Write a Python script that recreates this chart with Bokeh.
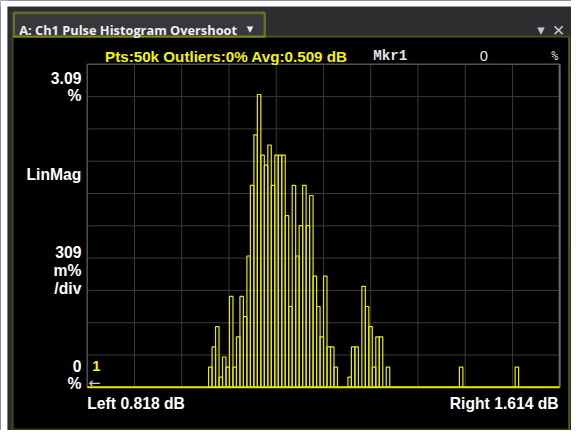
from bokeh.plotting import figure
from bokeh.models import Label, BoxAnnotation, Range1d
from bokeh.embed import file_html
from bokeh.resources import INLINE
import numpy as np

# ---------------- data ----------------
x_left_db = 0.818
x_right_db = 1.614
y_top_pct = 3.09
y_div_pct = 0.309
n_div = 10

bin_start_db = 1.0224
bin_width_db = 0.00587
heights_pct = [
    0.193, 0.386, 0.580, 0.097, 0.290, 0.193, 0.869, 0.193, 0.483, 0.869,
    0.676, 1.256, 1.932, 2.415, 2.801, 2.222, 2.125, 2.318, 1.932, 2.222,
    2.222, 2.222, 1.642, 0.773, 1.932, 1.256, 1.546, 1.932, 1.546, 1.835,
    1.063, 0.773, 0.483, 1.063, 0.386, 0.386, 0.193, 0.0, 0.0, 0.0,
    0.097, 0.386, 0.386, 0.0, 0.966, 0.773, 0.580, 0.193, 0.483, 0.483,
    0.0, 0.193, 0.0, 0.0, 0.0, 0.0, 0.0, 0.0, 0.0, 0.0,
    0.0, 0.0, 0.0, 0.0, 0.0, 0.0, 0.0, 0.0, 0.0, 0.0,
    0.0, 0.0, 0.193, 0.0, 0.0, 0.0, 0.0, 0.0, 0.0, 0.0,
    0.0, 0.0, 0.0, 0.0, 0.0, 0.0, 0.0, 0.0, 0.193,
]

title_text = "A: Ch1 Pulse Histogram Overshoot"
stats_text = "Pts:50k Outliers:0% Avg:0.509 dB"
marker_name = "Mkr1"
marker_value = "0"
marker_unit = "%"
scale_top_labels = ["3.09", "%"]
format_label = "LinMag"
scale_div_labels = ["309", "m%", "/div"]
scale_ref_labels = ["0", "%"]
left_label = "Left 0.818 dB"
right_label = "Right 1.614 dB"

# ---------------- layout ----------------
W, H = 571, 430
SX, SY = W / 579.0, H / 438.0   # reference pixels -> canvas pixels

def cx(px):
    return px * SX

def cy(py):
    return py * SY

# graticule position on the canvas
FL, FR, FT, FB = cx(88), cx(567), cy(65), cy(394)
kx = (x_right_db - x_left_db) / (FR - FL)
ky = y_top_pct / (FB - FT)
xr = Range1d(x_left_db - FL * kx, x_left_db + (W - FL) * kx)
yr = Range1d(-(H - FB) * ky, y_top_pct + FT * ky)

p = figure(width=W, height=H, output_backend="svg", toolbar_location=None,
           x_range=xr, y_range=yr, x_axis_location=None, y_axis_location=None,
           min_border=0, title=None)
p.xgrid.visible = False
p.ygrid.visible = False
p.outline_line_alpha = 0
p.background_fill_color = "black"
p.border_fill_color = "black"

# chrome (canvas pixel units)
def box(l, r, t, b, **kw):
    p.add_layout(BoxAnnotation(left=cx(l), right=cx(r), top=cy(t), bottom=cy(b),
                               left_units="canvas", right_units="canvas",
                               top_units="canvas", bottom_units="canvas",
                               level="underlay", **kw))

hdr = "#2d2d30"
box(0, 600, 0, 37, fill_color=hdr, fill_alpha=1, line_alpha=0)
box(0, 12, 37, 450, fill_color=hdr, fill_alpha=1, line_alpha=0)
box(576, 600, 37, 450, fill_color=hdr, fill_alpha=1, line_alpha=0)
box(0, 600, 0, 6, fill_color="white", fill_alpha=1, line_alpha=0)
box(0, 7, 0, 450, fill_color="white", fill_alpha=1, line_alpha=0)
box(13.5, 268, 12.5, 37, fill_color="#38383c", fill_alpha=1, line_color="#eeee00", line_width=2.5)
box(12.5, 576.5, 37, 437, fill_alpha=0, line_color="#c0c000", line_width=2)

# graticule
xt = np.linspace(x_left_db, x_right_db, n_div + 1)
yt = np.array([i * y_div_pct for i in range(n_div + 1)])
p.segment(x0=xt, y0=0, x1=xt, y1=y_top_pct, line_color="#3a3a3a", line_width=1)
p.segment(x0=x_left_db, y0=yt, x1=x_right_db, y1=yt, line_color="#3a3a3a", line_width=1)
p.segment(x0=[x_left_db, x_left_db], y0=[0, y_top_pct], x1=[x_left_db, x_right_db],
          y1=[y_top_pct, y_top_pct], line_color="#505050", line_width=1.5)
p.segment(x0=x_right_db, y0=0, x1=x_right_db, y1=y_top_pct, line_color="#6a6a6a", line_width=2)

# histogram
edges = bin_start_db + bin_width_db * np.arange(len(heights_pct) + 1)
p.quad(left=edges[:-1], right=edges[1:], bottom=0, top=heights_pct,
       fill_alpha=0, line_color="#eaea00", line_width=1.2)
p.segment(x0=x_left_db, y0=0, x1=x_right_db, y1=0, line_color="#e6e600", line_width=2)

def lab(text, px, py, align="left", color="white", size=14, font="Liberation Sans",
        style="bold", baseline="alphabetic"):
    p.add_layout(Label(x=cx(px), y=cy(py), x_units="canvas", y_units="canvas",
                       text=text, text_align=align,
                       text_baseline=baseline, text_color=color,
                       text_font_size="%.1fpx" % (size * SY),
                       text_font=font, text_font_style=style))

lab(title_text, 19, 30, size=13.0, font="Open Sans", color="#f0f0f0")
lab("\u25BE", 253, 29, align="center", size=13, color="#f0f0f0", style="normal", font="DejaVu Sans")
lab("\u25BE", 548, 30, align="center", size=15, color="#c8c8c8", style="normal", font="DejaVu Sans")
lab("\u2715", 566, 31, align="center", size=16, color="#c8c8c8", style="normal", font="DejaVu Sans")

lab(stats_text, 106, 57, color="#f4f400", size=15.5)
lab(marker_name, 378, 57, color="#e6e6e6", size=14.5, font="Liberation Mono", style="bold")
lab(marker_value, 490, 57, align="center", color="#e6e6e6", size=15, style="normal")
lab(marker_unit, 562, 57, align="center", color="#dddddd", size=12, font="DejaVu Sans Mono", style="normal")

lab(scale_top_labels[0], 82, 79, align="right", size=16)
lab(scale_top_labels[1], 82, 97, align="right", size=16)
lab(format_label, 82, 177, align="right", size=16)
lab(scale_div_labels[0], 82, 256, align="right", size=16)
lab(scale_div_labels[1], 82, 275, align="right", size=16)
lab(scale_div_labels[2], 82, 293, align="right", size=16)
lab(scale_ref_labels[0], 82, 372, align="right", size=16)
lab(scale_ref_labels[1], 82, 390, align="right", size=16)

lab("1", 93, 372, color="#f4f400", size=15)
lab("\u2190", 89, 389, color="#cccccc", size=15, style="normal", font="DejaVu Sans", baseline="middle")

lab(left_label, 88, 410, size=16)
lab(right_label, 566, 410, align="right", size=16)

open("out.html", "w").write(file_html(p, INLINE))
